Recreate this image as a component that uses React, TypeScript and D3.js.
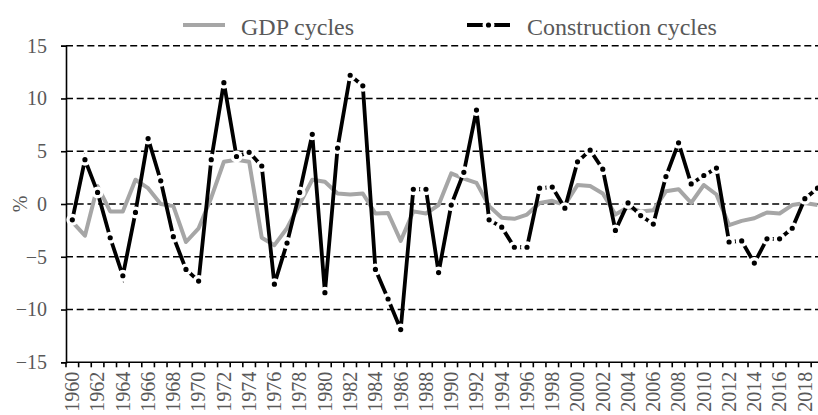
import React, { useEffect, useRef } from "react";
import * as d3 from "d3";

const years = d3.range(1960, 2020);

// GDP cycles (%)
const gdpCycles = [
  -1.7, -3.0, 1.7, -0.7, -0.7, 2.3, 1.5, 0.0, -0.2, -3.6,
  -2.3, 0.6, 4.0, 4.2, 4.0, -3.2, -3.9, -2.3, 0.0, 2.3,
  2.1, 1.0, 0.9, 1.0, -0.9, -0.85, -3.5, -0.7, -0.9, -0.1,
  2.9, 2.4, 2.0, -0.2, -1.3, -1.4, -1.0, 0.1, 0.3, -0.1,
  1.8, 1.7, 1.0, -1.0, -0.3, -0.7, -0.6, 1.2, 1.4, 0.1,
  1.8, 0.9, -2.0, -1.6, -1.35, -0.8, -0.9, -0.1, 0.1, -0.1,
];

// Construction cycles (%)
const constructionCycles = [
  -1.5, 4.2, 1.1, -3.2, -6.8, -0.8, 6.2, 2.2, -3.1, -6.2,
  -7.3, 4.2, 11.5, 4.5, 4.9, 3.6, -7.6, -3.7, 1.1, 6.6,
  -8.4, 5.3, 12.2, 11.2, -6.2, -9.0, -11.9, 1.4, 1.4, -6.5,
  -0.1, 3.0, 8.9, -1.5, -2.2, -4.1, -4.1, 1.5, 1.6, -0.4,
  4.0, 5.1, 3.3, -2.5, 0.1, -1.1, -1.9, 2.6, 5.8, 1.9,
  2.7, 3.4, -3.6, -3.5, -5.6, -3.3, -3.3, -2.3, 0.5, 1.5,
];

const yTicks = [-15, -10, -5, 0, 5, 10, 15];

const TEXT = "#595959";
const FONT = "'Liberation Serif', 'Times New Roman', serif";

export default function App() {
  const svgRef = useRef<SVGSVGElement>(null);

  useEffect(() => {
    const W = 818;
    const H = 415;
    const left = 66;
    const step = 12.63;
    const top = 45.7;
    const bottom = 362.3;

    d3.select(svgRef.current).selectAll("*").remove();
    const svg = d3
      .select(svgRef.current)
      .attr("width", W)
      .attr("height", H)
      .style("font-family", FONT);

    const x = d3
      .scaleBand<number>()
      .domain(years)
      .range([left, left + step * years.length])
      .padding(0);
    const cx = (yr: number) => (x(yr) || 0) + x.bandwidth() / 2;
    const y = d3.scaleLinear().domain([-15, 15]).range([bottom, top]);

    // gridlines
    svg
      .append("g")
      .selectAll("line")
      .data(yTicks.filter((t) => t !== -15))
      .join("line")
      .attr("x1", left)
      .attr("x2", W)
      .attr("y1", (d) => y(d))
      .attr("y2", (d) => y(d))
      .attr("stroke", "#000")
      .attr("stroke-width", 1.5)
      .attr("stroke-dasharray", "7,3.7");

    // y axis
    const yAxis = svg
      .append("g")
      .attr("transform", `translate(${left},0)`)
      .call(d3.axisLeft(y).tickValues(yTicks).tickSize(5).tickPadding(14));
    yAxis.select(".domain").attr("stroke", "#000").attr("stroke-width", 1.6);
    yAxis.selectAll(".tick line").attr("stroke", "#000").attr("stroke-width", 1.6);
    yAxis
      .selectAll(".tick text")
      .attr("fill", TEXT)
      .style("font-size", "20px")
      .style("font-family", FONT);

    // x axis
    const xAxis = svg
      .append("g")
      .attr("transform", `translate(0,${bottom})`);
    xAxis
      .append("line")
      .attr("x1", left)
      .attr("x2", W)
      .attr("stroke", "#000")
      .attr("stroke-width", 1.6);
    xAxis
      .selectAll("line.tk")
      .data(years.concat([2020]))
      .join("line")
      .attr("class", "tk")
      .attr("x1", (d) => left + (d - 1960) * x.step())
      .attr("x2", (d) => left + (d - 1960) * x.step())
      .attr("y1", 0)
      .attr("y2", 5)
      .attr("stroke", "#000")
      .attr("stroke-width", 1.6);
    xAxis
      .selectAll("text")
      .data(years.filter((d) => d % 2 === 0))
      .join("text")
      .attr("transform", (d) => `translate(${cx(d)},9.5) rotate(-90)`)
      .attr("text-anchor", "end")
      .attr("dy", "0.34em")
      .attr("fill", TEXT)
      .style("font-size", "20px")
      .text((d) => d);

    // % label
    svg
      .append("text")
      .attr("transform", `translate(20,${y(0)}) rotate(-90)`)
      .attr("text-anchor", "middle")
      .attr("dy", "0.34em")
      .attr("fill", TEXT)
      .style("font-size", "20px")
      .text("%");

    const line = d3
      .line<number>()
      .x((_, i) => cx(years[i]))
      .y((d) => y(d));

    svg
      .append("path")
      .datum(gdpCycles)
      .attr("d", line)
      .attr("fill", "none")
      .attr("stroke", "#A6A6A6")
      .attr("stroke-width", 4)
      .attr("stroke-linejoin", "round");

    svg
      .append("path")
      .datum(constructionCycles)
      .attr("d", line)
      .attr("fill", "none")
      .attr("stroke", "#000")
      .attr("stroke-width", 3.8)
      .attr("stroke-linejoin", "miter");

    svg
      .append("g")
      .selectAll("circle")
      .data(constructionCycles)
      .join("circle")
      .attr("cx", (_, i) => cx(years[i]))
      .attr("cy", (d) => y(d))
      .attr("r", 4.3)
      .attr("fill", "#000")
      .attr("stroke", "#fff")
      .attr("stroke-width", 3.4);

    // Legend
    const legend = svg.append("g");
    legend
      .append("line")
      .attr("x1", 183)
      .attr("x2", 225)
      .attr("y1", 25)
      .attr("y2", 25)
      .attr("stroke", "#A6A6A6")
      .attr("stroke-width", 4);
    legend
      .append("text")
      .attr("x", 241)
      .attr("y", 34.5)
      .attr("fill", TEXT)
      .style("font-size", "24px")
      .text("GDP cycles");
    legend
      .append("line")
      .attr("x1", 467)
      .attr("x2", 510)
      .attr("y1", 25)
      .attr("y2", 25)
      .attr("stroke", "#000")
      .attr("stroke-width", 3.8);
    legend
      .append("circle")
      .attr("cx", 488.5)
      .attr("cy", 25)
      .attr("r", 4.3)
      .attr("fill", "#000")
      .attr("stroke", "#fff")
      .attr("stroke-width", 3.4);
    legend
      .append("text")
      .attr("x", 527)
      .attr("y", 34.5)
      .attr("fill", TEXT)
      .style("font-size", "24px")
      .text("Construction cycles");
  }, []);

  return (
    <svg
      ref={svgRef}
      style={{ position: "absolute", left: 0, top: 0, display: "block" }}
    ></svg>
  );
}
